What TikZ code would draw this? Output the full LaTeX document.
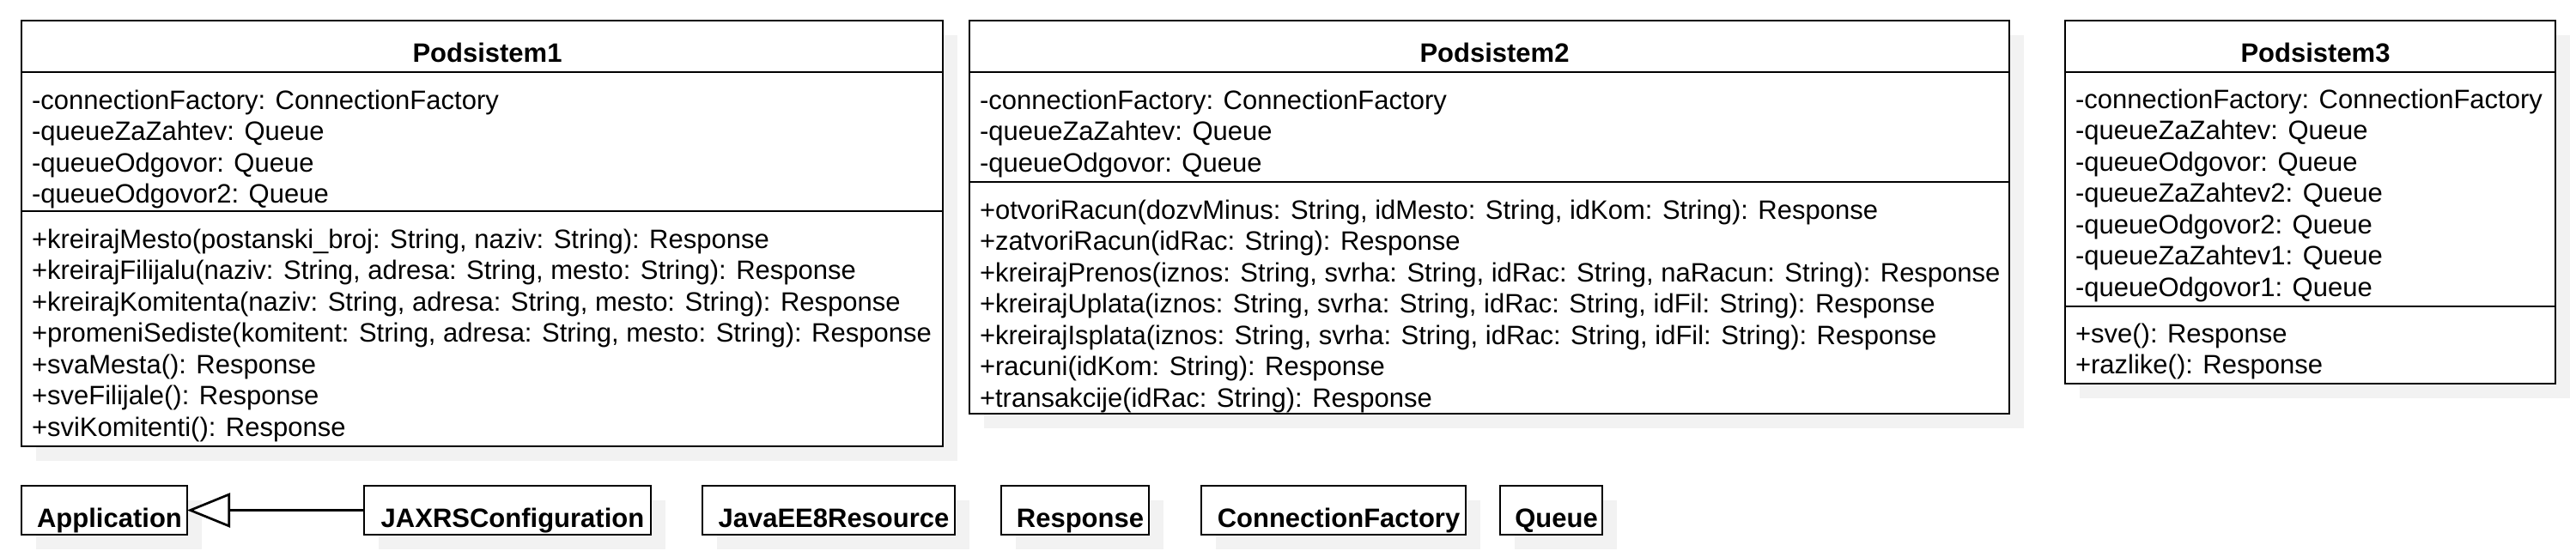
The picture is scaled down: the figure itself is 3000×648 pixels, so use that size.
\documentclass[tikz,border=0pt]{standalone}
\usepackage{fontspec}
\setmainfont{Liberation Sans}
\usetikzlibrary{arrows.meta,backgrounds}
\tikzset{
  hdr/.style={draw, fill=white, line width=2.7pt, inner sep=0pt, outer sep=0pt,
    font=\fontsize{31}{36.5}\selectfont\bfseries, text height=36pt, text depth=0pt,
    execute at begin node=\hspace*{12pt}, anchor=north west},
  lone/.style={hdr, minimum height=57pt, text height=40pt},
  cmp/.style={draw, fill=white, line width=2.7pt, inner sep=0pt, outer sep=0pt, anchor=north west},
  lst/.style={inner sep=0pt, outer sep=0pt, align=left, font=\fontsize{31}{36.5}\selectfont, anchor=base west},
  shadowbox/.style={fill=black!5},
  gen/.style={line width=2.7pt, -{Triangle[length=50pt, width=40pt, fill=white]}}
}
\begin{document}
\begin{tikzpicture}[x=1pt, y=-1pt]
      \useasboundingbox (0,0) rectangle (3000,648);
      \node[hdr, minimum width=1073pt, minimum height=60pt] (p1) at (25,24) {Podsistem1};
      \node[cmp, minimum width=1073pt, minimum height=162pt] (p1a) at (p1.south west) {};
      \node[cmp, minimum width=1073pt, minimum height=274pt] (p1m) at (p1a.south west) {};
      \node[lst] (p1at) at (37,236.5) {-connectionFactory: ConnectionFactory\\
        -queueZaZahtev: Queue\\
        -queueOdgovor: Queue\\
        -queueOdgovor2: Queue};
      \node[lst] (p1mt) at (37,508) {+kreirajMesto(postanski\_broj: String, naziv: String): Response\\
        +kreirajFilijalu(naziv: String, adresa: String, mesto: String): Response\\
        +kreirajKomitenta(naziv: String, adresa: String, mesto: String): Response\\
        +promeniSediste(komitent: String, adresa: String, mesto: String): Response\\
        +svaMesta(): Response\\
        +sveFilijale(): Response\\
        +sviKomitenti(): Response};

      \node[hdr, minimum width=1211pt, minimum height=60pt] (p2) at (1129,24) {Podsistem2};
      \node[cmp, minimum width=1211pt, minimum height=128pt] (p2a) at (p2.south west) {};
      \node[cmp, minimum width=1211pt, minimum height=270pt] (p2m) at (p2a.south west) {};
      \node[lst] (p2at) at (1141,200) {-connectionFactory: ConnectionFactory\\
        -queueZaZahtev: Queue\\
        -queueOdgovor: Queue};
      \node[lst] (p2mt) at (1141,474) {+otvoriRacun(dozvMinus: String, idMesto: String, idKom: String): Response\\
        +zatvoriRacun(idRac: String): Response\\
        +kreirajPrenos(iznos: String, svrha: String, idRac: String, naRacun: String): Response\\
        +kreirajUplata(iznos: String, svrha: String, idRac: String, idFil: String): Response\\
        +kreirajIsplata(iznos: String, svrha: String, idRac: String, idFil: String): Response\\
        +racuni(idKom: String): Response\\
        +transakcije(idRac: String): Response};

      \node[hdr, minimum width=571pt, minimum height=60pt] (p3) at (2405,24) {Podsistem3};
      \node[cmp, minimum width=571pt, minimum height=273pt] (p3a) at (p3.south west) {};
      \node[cmp, minimum width=571pt, minimum height=90pt] (p3m) at (p3a.south west) {};
      \node[lst] (p3at) at (2417,345) {-connectionFactory: ConnectionFactory\\
        -queueZaZahtev: Queue\\
        -queueOdgovor: Queue\\
        -queueZaZahtev2: Queue\\
        -queueOdgovor2: Queue\\
        -queueZaZahtev1: Queue\\
        -queueOdgovor1: Queue};
      \node[lst] (p3mt) at (2417,435.5) {+sve(): Response\\
        +razlike(): Response};

      \node[lone, minimum width=193pt] (app) at (25,566) {Application};
      \node[lone, minimum width=334pt] (jax) at (424,566) {JAXRSConfiguration};
      \node[lone, minimum width=294pt] (jee) at (818,566) {JavaEE8Resource};
      \node[lone, minimum width=172pt] (resp) at (1166,566) {Response};
      \node[lone, minimum width=308pt] (cf) at (1399,566) {ConnectionFactory};
      \node[lone, minimum width=119pt] (queue) at (1747,566) {Queue};

      \draw[gen] (jax.west) -- (app.east);

      \begin{scope}[on background layer]
        \fill[shadowbox] ([shift={(17,17)}]p1.north west) rectangle ([shift={(17,17)}]p1m.south east);
        \fill[shadowbox] ([shift={(17,17)}]p2.north west) rectangle ([shift={(17,17)}]p2m.south east);
        \fill[shadowbox] ([shift={(17,17)}]p3.north west) rectangle ([shift={(17,17)}]p3m.south east);
        \fill[shadowbox] ([shift={(17,17)}]app.north west) rectangle ([shift={(17,17)}]app.south east);
        \fill[shadowbox] ([shift={(17,17)}]jax.north west) rectangle ([shift={(17,17)}]jax.south east);
        \fill[shadowbox] ([shift={(17,17)}]jee.north west) rectangle ([shift={(17,17)}]jee.south east);
        \fill[shadowbox] ([shift={(17,17)}]resp.north west) rectangle ([shift={(17,17)}]resp.south east);
        \fill[shadowbox] ([shift={(17,17)}]cf.north west) rectangle ([shift={(17,17)}]cf.south east);
        \fill[shadowbox] ([shift={(17,17)}]queue.north west) rectangle ([shift={(17,17)}]queue.south east);
      \end{scope}
    \end{tikzpicture}
\end{document}
